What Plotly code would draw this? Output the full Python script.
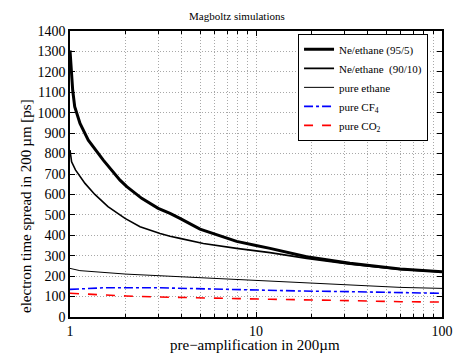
import plotly.graph_objects as go

# Data
x_ne95 = [1.0, 1.02, 1.034, 1.06, 1.132, 1.254, 1.51, 1.857, 2.02, 2.43, 2.98, 3.45, 3.9, 5.0, 7.87, 10, 11.9, 18.7, 32, 59.5, 100]
y_ne95 = [1305, 1200, 1110, 1030, 948, 866, 768, 670, 638, 581, 532, 507, 483, 430, 370, 350, 336, 295, 263, 235, 221]

x_ne90 = [1.0, 1.02, 1.07, 1.204, 1.36, 1.6, 1.976, 2.38, 3.05, 3.45, 3.9, 5.21, 7.87, 11.9, 18.7, 32, 59.5, 100]
y_ne90 = [817, 760, 720, 654, 600, 540, 483, 442, 409, 395, 385, 360, 336, 315, 287, 258, 233, 220]

x_eth = [1.0, 1.13, 2.0, 3.05, 3.9, 5.21, 7.87, 11.9, 18.7, 32, 59.5, 100]
y_eth = [238, 227, 210, 202, 196, 189, 181, 173, 165, 157, 145, 140]

x_cf4 = [1.0, 1.5, 3.0, 4.0, 5.2, 7.9, 12, 18, 32, 60, 100]
y_cf4 = [135, 143, 143, 140, 138, 134, 131, 127, 124, 119, 116]

x_co2 = [1.0, 1.5, 2.0, 3.0, 4.0, 5.2, 8, 12, 18, 32, 60, 100]
y_co2 = [116, 108, 103, 98, 95, 92, 90, 87, 83, 80, 75, 73]

major_x = [1, 10, 100]
minor_x = [2, 3, 4, 5, 6, 7, 8, 9, 20, 30, 40, 50, 60, 70, 80, 90]

FONT = "Times New Roman, Liberation Serif, serif"
GRID = "#a8a8a8"

fig = go.Figure()
fig.add_trace(go.Scatter(x=x_ne95, y=y_ne95, mode="lines", name="Ne/ethane (95/5)",
                         line=dict(color="black", width=3)))
fig.add_trace(go.Scatter(x=x_ne90, y=y_ne90, mode="lines", name="Ne/ethane  (90/10)",
                         line=dict(color="black", width=1.6)))
fig.add_trace(go.Scatter(x=x_eth, y=y_eth, mode="lines", name="pure ethane",
                         line=dict(color="black", width=1)))
fig.add_trace(go.Scatter(x=x_cf4, y=y_cf4, mode="lines", name="pure CF<sub>4</sub>",
                         line=dict(color="blue", width=1.6, dash="dashdot")))
fig.add_trace(go.Scatter(x=x_co2, y=y_co2, mode="lines", name="pure CO<sub>2</sub>",
                         line=dict(color="red", width=1.6, dash="dash")))

fig.update_layout(
    width=453, height=354,
    margin=dict(l=70, r=11, t=31, b=37, autoexpand=False),
    paper_bgcolor="white", plot_bgcolor="white",
    font=dict(family=FONT, color="black", size=13),
    title=dict(text="Magboltz simulations", x=0.523, xanchor="center", y=0.955, yanchor="middle",
               font=dict(size=11, family=FONT)),
    showlegend=True,
    legend=dict(x=0.613, y=0.99, xanchor="left", yanchor="top",
                bordercolor="black", borderwidth=1, bgcolor="white",
                font=dict(size=11, family=FONT), tracegroupgap=0,
                itemwidth=30),
    annotations=[
        dict(text="electron time spread in 200\u2009\u00b5m [ps]",
             textangle=-90, xref="paper", yref="paper",
             x=(26 - 70) / 372, y=(317 - 206) / 286,
             xanchor="center", yanchor="middle", showarrow=False,
             font=dict(size=15, family=FONT)),
        dict(text="pre\u2212amplification in 200\u00b5m",
             xref="paper", yref="paper",
             x=(255 - 70) / 372, y=(317 - 345) / 286,
             xanchor="center", yanchor="middle", showarrow=False,
             font=dict(size=15, family=FONT)),
    ],
)
fig.update_xaxes(
    type="log", range=[0, 2], automargin=False,
    tickvals=major_x, ticktext=["1", "10", "100"],
    ticks="inside", ticklen=5, tickcolor="black",
    showline=True, linecolor="black", linewidth=1.5, mirror="ticks",
    showgrid=True, gridcolor=GRID, griddash="1px,2px", gridwidth=1,
    minor=dict(tickvals=minor_x, ticks="inside", ticklen=3, tickcolor="black",
               showgrid=True, gridcolor=GRID, griddash="1px,2px", gridwidth=1),
    zeroline=False, ticklabeloverflow="allow",
    tickfont=dict(size=14, family=FONT),
)
fig.update_yaxes(
    range=[0, 1400], dtick=100, tick0=0, automargin=False,
    ticks="inside", ticklen=5, tickcolor="black",
    showline=True, linecolor="black", linewidth=1.5, mirror="ticks",
    showgrid=True, gridcolor=GRID, griddash="1px,2px", gridwidth=1,
    zeroline=False,
    tickfont=dict(size=14, family=FONT),
)

page_css = ("var d=document.documentElement;d.style.margin='0';d.style.padding='0';d.style.overflow='hidden';"
            "var b=document.body;b.style.margin='0';b.style.padding='0';b.style.overflow='hidden';")
fig.write_html("out.html", config={"displayModeBar": False}, post_script=page_css)
